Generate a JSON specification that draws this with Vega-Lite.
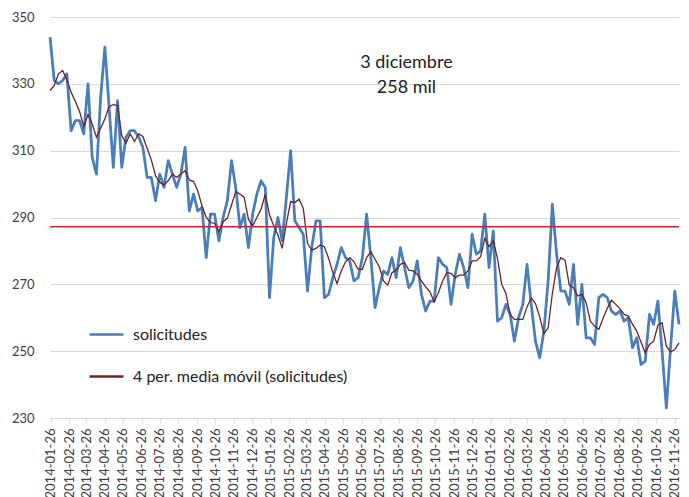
{
  "$schema": "https://vega.github.io/schema/vega-lite/v6.json",
  "width": 629,
  "height": 401,
  "autosize": {"type": "none"},
  "padding": {"left": 50, "top": 17, "right": 10, "bottom": 79},
  "background": "white",
  "config": {
    "view": {"stroke": null},
    "font": "Lato",
    "axis": {"labelFont": "Lato", "labelColor": "#404040", "title": null},
    "legend": {"labelFont": "Lato"}
  },
  "datasets": {
    "claims": [
      {"f": "2014-01-25", "s": 344, "m": 328},
      {"f": "2014-02-01", "s": 331, "m": 329.5},
      {"f": "2014-02-08", "s": 330, "m": 333},
      {"f": "2014-02-15", "s": 331, "m": 334},
      {"f": "2014-02-22", "s": 333, "m": 331.25},
      {"f": "2014-03-01", "s": 316, "m": 327.5},
      {"f": "2014-03-08", "s": 319, "m": 324.75},
      {"f": "2014-03-15", "s": 319, "m": 321.75},
      {"f": "2014-03-22", "s": 315, "m": 317.25},
      {"f": "2014-03-29", "s": 330, "m": 320.75},
      {"f": "2014-04-05", "s": 308, "m": 318},
      {"f": "2014-04-12", "s": 303, "m": 314},
      {"f": "2014-04-19", "s": 326, "m": 316.75},
      {"f": "2014-04-26", "s": 341, "m": 319.5},
      {"f": "2014-05-03", "s": 323, "m": 323.25},
      {"f": "2014-05-10", "s": 305, "m": 323.75},
      {"f": "2014-05-17", "s": 325, "m": 323.5},
      {"f": "2014-05-24", "s": 305, "m": 314.5},
      {"f": "2014-05-31", "s": 314, "m": 312.25},
      {"f": "2014-06-07", "s": 316, "m": 315},
      {"f": "2014-06-14", "s": 316, "m": 312.75},
      {"f": "2014-06-21", "s": 314, "m": 315},
      {"f": "2014-06-28", "s": 311, "m": 314.25},
      {"f": "2014-07-05", "s": 302, "m": 310.75},
      {"f": "2014-07-12", "s": 302, "m": 307.25},
      {"f": "2014-07-19", "s": 295, "m": 302.5},
      {"f": "2014-07-26", "s": 303, "m": 300.5},
      {"f": "2014-08-02", "s": 299, "m": 299.75},
      {"f": "2014-08-09", "s": 307, "m": 301},
      {"f": "2014-08-16", "s": 303, "m": 303},
      {"f": "2014-08-23", "s": 299, "m": 302},
      {"f": "2014-08-30", "s": 303, "m": 303},
      {"f": "2014-09-06", "s": 311, "m": 304},
      {"f": "2014-09-13", "s": 292, "m": 301.25},
      {"f": "2014-09-20", "s": 297, "m": 300.75},
      {"f": "2014-09-27", "s": 292, "m": 298},
      {"f": "2014-10-04", "s": 293, "m": 293.5},
      {"f": "2014-10-11", "s": 278, "m": 290},
      {"f": "2014-10-18", "s": 291, "m": 288.5},
      {"f": "2014-10-25", "s": 291, "m": 288.25},
      {"f": "2014-11-01", "s": 283, "m": 285.75},
      {"f": "2014-11-08", "s": 290, "m": 288.75},
      {"f": "2014-11-15", "s": 295, "m": 289.75},
      {"f": "2014-11-22", "s": 307, "m": 293.75},
      {"f": "2014-11-29", "s": 299, "m": 297.75},
      {"f": "2014-12-06", "s": 287, "m": 297},
      {"f": "2014-12-13", "s": 291, "m": 296},
      {"f": "2014-12-20", "s": 281, "m": 289.5},
      {"f": "2014-12-27", "s": 291, "m": 287.5},
      {"f": "2015-01-03", "s": 297, "m": 290},
      {"f": "2015-01-10", "s": 301, "m": 292.5},
      {"f": "2015-01-17", "s": 299, "m": 297},
      {"f": "2015-01-24", "s": 266, "m": 290.75},
      {"f": "2015-01-31", "s": 284, "m": 287.5},
      {"f": "2015-02-07", "s": 290, "m": 284.75},
      {"f": "2015-02-14", "s": 283, "m": 280.75},
      {"f": "2015-02-21", "s": 296, "m": 288.25},
      {"f": "2015-02-28", "s": 310, "m": 294.75},
      {"f": "2015-03-07", "s": 289, "m": 294.5},
      {"f": "2015-03-14", "s": 287, "m": 295.5},
      {"f": "2015-03-21", "s": 285, "m": 292.75},
      {"f": "2015-03-28", "s": 268, "m": 282.25},
      {"f": "2015-04-04", "s": 281, "m": 280.25},
      {"f": "2015-04-11", "s": 289, "m": 280.75},
      {"f": "2015-04-18", "s": 289, "m": 281.75},
      {"f": "2015-04-25", "s": 266, "m": 281.25},
      {"f": "2015-05-02", "s": 267, "m": 277.75},
      {"f": "2015-05-09", "s": 272, "m": 273.5},
      {"f": "2015-05-16", "s": 276, "m": 270.25},
      {"f": "2015-05-23", "s": 281, "m": 274},
      {"f": "2015-05-30", "s": 278, "m": 276.75},
      {"f": "2015-06-06", "s": 277, "m": 278},
      {"f": "2015-06-13", "s": 271, "m": 276.75},
      {"f": "2015-06-20", "s": 272, "m": 274.5},
      {"f": "2015-06-27", "s": 278, "m": 274.5},
      {"f": "2015-07-04", "s": 291, "m": 278},
      {"f": "2015-07-11", "s": 278, "m": 279.75},
      {"f": "2015-07-18", "s": 263, "m": 277.5},
      {"f": "2015-07-25", "s": 269, "m": 275.25},
      {"f": "2015-08-01", "s": 274, "m": 271},
      {"f": "2015-08-08", "s": 273, "m": 269.75},
      {"f": "2015-08-15", "s": 278, "m": 273.5},
      {"f": "2015-08-22", "s": 272, "m": 274.25},
      {"f": "2015-08-29", "s": 281, "m": 276},
      {"f": "2015-09-05", "s": 275, "m": 276.5},
      {"f": "2015-09-12", "s": 269, "m": 274.25},
      {"f": "2015-09-19", "s": 271, "m": 274},
      {"f": "2015-09-26", "s": 277, "m": 273},
      {"f": "2015-10-03", "s": 267, "m": 271},
      {"f": "2015-10-10", "s": 262, "m": 269.25},
      {"f": "2015-10-17", "s": 265, "m": 267.75},
      {"f": "2015-10-24", "s": 265, "m": 264.75},
      {"f": "2015-10-31", "s": 278, "m": 267.5},
      {"f": "2015-11-07", "s": 276, "m": 271},
      {"f": "2015-11-14", "s": 275, "m": 273.5},
      {"f": "2015-11-21", "s": 264, "m": 273.25},
      {"f": "2015-11-28", "s": 273, "m": 272},
      {"f": "2015-12-05", "s": 279, "m": 272.75},
      {"f": "2015-12-12", "s": 275, "m": 272.75},
      {"f": "2015-12-19", "s": 269, "m": 274},
      {"f": "2015-12-26", "s": 285, "m": 277},
      {"f": "2016-01-02", "s": 279, "m": 277},
      {"f": "2016-01-09", "s": 280, "m": 278.25},
      {"f": "2016-01-16", "s": 291, "m": 283.75},
      {"f": "2016-01-23", "s": 275, "m": 281.25},
      {"f": "2016-01-30", "s": 286, "m": 283},
      {"f": "2016-02-06", "s": 259, "m": 277.75},
      {"f": "2016-02-13", "s": 260, "m": 270},
      {"f": "2016-02-20", "s": 264, "m": 267.25},
      {"f": "2016-02-27", "s": 261, "m": 261},
      {"f": "2016-03-05", "s": 253, "m": 259.5},
      {"f": "2016-03-12", "s": 260, "m": 259.5},
      {"f": "2016-03-19", "s": 264, "m": 259.5},
      {"f": "2016-03-26", "s": 276, "m": 263.25},
      {"f": "2016-04-02", "s": 264, "m": 266},
      {"f": "2016-04-09", "s": 253, "m": 264.25},
      {"f": "2016-04-16", "s": 248, "m": 260.25},
      {"f": "2016-04-23", "s": 256, "m": 255.25},
      {"f": "2016-04-30", "s": 271, "m": 257},
      {"f": "2016-05-07", "s": 294, "m": 267.25},
      {"f": "2016-05-14", "s": 279, "m": 275},
      {"f": "2016-05-21", "s": 268, "m": 278},
      {"f": "2016-05-28", "s": 268, "m": 277.25},
      {"f": "2016-06-04", "s": 264, "m": 269.75},
      {"f": "2016-06-11", "s": 276, "m": 269},
      {"f": "2016-06-18", "s": 258, "m": 266.5},
      {"f": "2016-06-25", "s": 270, "m": 267},
      {"f": "2016-07-02", "s": 254, "m": 264.5},
      {"f": "2016-07-09", "s": 254, "m": 259},
      {"f": "2016-07-16", "s": 252, "m": 257.5},
      {"f": "2016-07-23", "s": 266, "m": 256.5},
      {"f": "2016-07-30", "s": 267, "m": 259.75},
      {"f": "2016-08-06", "s": 266, "m": 262.75},
      {"f": "2016-08-13", "s": 262, "m": 265.25},
      {"f": "2016-08-20", "s": 261, "m": 264},
      {"f": "2016-08-27", "s": 262, "m": 262.75},
      {"f": "2016-09-03", "s": 259, "m": 261},
      {"f": "2016-09-10", "s": 260, "m": 260.5},
      {"f": "2016-09-17", "s": 251, "m": 258},
      {"f": "2016-09-24", "s": 254, "m": 256},
      {"f": "2016-10-01", "s": 246, "m": 252.75},
      {"f": "2016-10-08", "s": 247, "m": 249.5},
      {"f": "2016-10-15", "s": 261, "m": 252},
      {"f": "2016-10-22", "s": 258, "m": 253},
      {"f": "2016-10-29", "s": 265, "m": 257.75},
      {"f": "2016-11-05", "s": 250, "m": 258.5},
      {"f": "2016-11-12", "s": 233, "m": 251.5},
      {"f": "2016-11-19", "s": 251, "m": 249.75},
      {"f": "2016-11-26", "s": 268, "m": 250.5},
      {"f": "2016-12-03", "s": 258, "m": 252.5}
    ]
  },
  "layer": [
    {
      "data": {"name": "claims"},
      "mark": {"type": "line", "strokeWidth": 2.75, "strokeJoin": "round"},
      "encoding": {
        "x": {
          "field": "f", "type": "temporal",
          "scale": {"type": "utc", "domain": [{"year": 2014, "month": 1, "date": 25, "utc": true}, {"year": 2016, "month": 12, "date": 3, "utc": true}]},
          "axis": {
            "values": [
              {"year": 2014, "month": 1, "date": 26, "utc": true}, {"year": 2014, "month": 2, "date": 26, "utc": true}, {"year": 2014, "month": 3, "date": 26, "utc": true}, {"year": 2014, "month": 4, "date": 26, "utc": true}, {"year": 2014, "month": 5, "date": 26, "utc": true}, {"year": 2014, "month": 6, "date": 26, "utc": true}, {"year": 2014, "month": 7, "date": 26, "utc": true}, {"year": 2014, "month": 8, "date": 26, "utc": true}, {"year": 2014, "month": 9, "date": 26, "utc": true}, {"year": 2014, "month": 10, "date": 26, "utc": true}, {"year": 2014, "month": 11, "date": 26, "utc": true}, {"year": 2014, "month": 12, "date": 26, "utc": true},
              {"year": 2015, "month": 1, "date": 26, "utc": true}, {"year": 2015, "month": 2, "date": 26, "utc": true}, {"year": 2015, "month": 3, "date": 26, "utc": true}, {"year": 2015, "month": 4, "date": 26, "utc": true}, {"year": 2015, "month": 5, "date": 26, "utc": true}, {"year": 2015, "month": 6, "date": 26, "utc": true}, {"year": 2015, "month": 7, "date": 26, "utc": true}, {"year": 2015, "month": 8, "date": 26, "utc": true}, {"year": 2015, "month": 9, "date": 26, "utc": true}, {"year": 2015, "month": 10, "date": 26, "utc": true}, {"year": 2015, "month": 11, "date": 26, "utc": true}, {"year": 2015, "month": 12, "date": 26, "utc": true},
              {"year": 2016, "month": 1, "date": 26, "utc": true}, {"year": 2016, "month": 2, "date": 26, "utc": true}, {"year": 2016, "month": 3, "date": 26, "utc": true}, {"year": 2016, "month": 4, "date": 26, "utc": true}, {"year": 2016, "month": 5, "date": 26, "utc": true}, {"year": 2016, "month": 6, "date": 26, "utc": true}, {"year": 2016, "month": 7, "date": 26, "utc": true}, {"year": 2016, "month": 8, "date": 26, "utc": true}, {"year": 2016, "month": 9, "date": 26, "utc": true}, {"year": 2016, "month": 10, "date": 26, "utc": true}, {"year": 2016, "month": 11, "date": 26, "utc": true}
            ],
            "tickCount": 200,
            "format": "%Y-%m-%d",
            "labelAngle": -90,
            "labelFontSize": 13,
            "labelPadding": 5,
            "labelOverlap": false,
            "labelFlush": false,
            "labelBound": false,
            "grid": false,
            "domainColor": "#d9d9d9",
            "domainWidth": 1,
            "tickColor": "#d9d9d9",
            "tickSize": 5
          }
        },
        "y": {
          "field": "s", "type": "quantitative",
          "scale": {"domain": [230, 350], "nice": false, "zero": false},
          "axis": {
            "values": [230, 250, 270, 290, 310, 330, 350],
            "grid": true,
            "gridColor": "#d9d9d9",
            "domain": false,
            "ticks": false,
            "labelPadding": 16,
            "labelFontSize": 13
          }
        },
        "color": {
          "datum": "solicitudes", "type": "nominal",
          "scale": {"domain": ["solicitudes", "4 per. media móvil (solicitudes)"], "range": ["#4a7ebb", "#6b2424"]},
          "legend": {
            "orient": "none",
            "legendX": 38,
            "legendY": 299,
            "title": null,
            "direction": "vertical",
            "symbolType": "stroke",
            "symbolSize": 1156,
            "symbolStrokeWidth": 2.5,
            "labelFontSize": 16,
            "labelColor": "#222222",
            "labelLimit": 500,
            "labelOffset": 8,
            "rowPadding": 15,
            "padding": 0
          }
        }
      }
    },
    {
      "data": {"name": "claims"},
      "mark": {"type": "line", "strokeWidth": 1.3},
      "encoding": {
        "x": {"field": "f", "type": "temporal"},
        "y": {"field": "m", "type": "quantitative"},
        "color": {"datum": "4 per. media móvil (solicitudes)", "type": "nominal"}
      }
    },
    {
      "data": {"values": [{"v": 287.2}]},
      "mark": {"type": "rule", "color": "#c0282d", "strokeWidth": 1.5},
      "encoding": {"y": {"field": "v", "type": "quantitative"}}
    },
    {
      "data": {"values": [
        {"f": "2015-09-08", "v": 336.3, "t": "3 diciembre"},
        {"f": "2015-09-08", "v": 328.8, "t": "258 mil"}
      ]},
      "mark": {"type": "text", "font": "Lato", "fontSize": 18, "color": "#222222", "align": "center", "baseline": "middle"},
      "encoding": {
        "x": {"field": "f", "type": "temporal"},
        "y": {"field": "v", "type": "quantitative"},
        "text": {"field": "t"}
      }
    }
  ]
}
